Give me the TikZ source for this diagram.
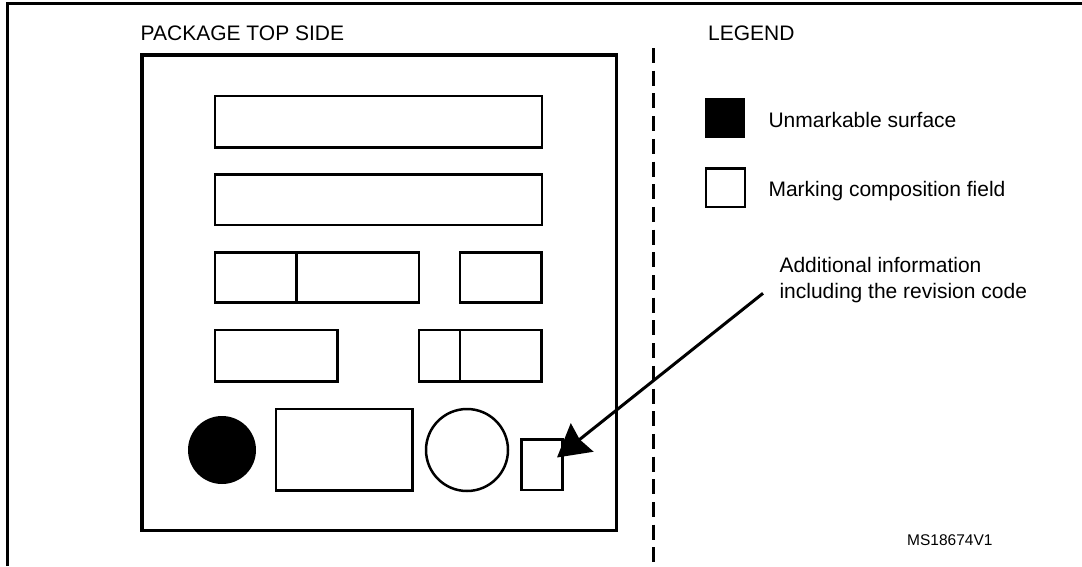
\documentclass[tikz,border=0pt]{standalone}
\usepackage{fontspec}
\setmainfont{Liberation Sans}
\usetikzlibrary{arrows.meta, positioning}

\tikzset{
  field/.style={draw, line width=2.5pt},
  pkgline/.style={draw, line width=3.2pt},
  lbl/.style={anchor=base west, inner sep=0pt, font=\fontsize{21}{25.6}\selectfont},
}

\begin{document}
\begin{tikzpicture}[x=1pt, y=-1pt]
    \useasboundingbox (0,0) rectangle (1082,566);

    % Outer frame (top and left only)
    \draw[line width=3pt] (7.8,566) -- (7.8,3.7) -- (1082,3.7);

    % --- Package top side ---
    \node[lbl] (pkgtitle) at (140.5,40.5) {PACKAGE TOP SIDE};
    \draw[pkgline] (142,55) rectangle (616.7,530.7);

    % Marking fields, rows 1 and 2
    \draw[field] (215,96) rectangle (542,147.3);
    \draw[field] (215,174.3) rectangle (542,225);

    % Row 3
    \draw[field] (215,252.7) rectangle (419,302.7);
    \draw[field] (296.7,252.7) -- (296.7,302.7);
    \draw[field] (460,252.7) rectangle (541.7,302.7);

    % Row 4
    \draw[field] (215,330) rectangle (337.7,381.7);
    \draw[field] (419,330) rectangle (541.7,381.7);
    \draw[field] (460,330) -- (460,381.7);

    % Row 5
    \fill (222,450) circle (34);
    \draw[field] (276,409) rectangle (412.7,490.7);
    \draw[field] (467,450) circle (41);
    \draw[field] (521.7,439.3) rectangle (562.7,490);
    \coordinate (revtip) at (557,457.5);

    % Separator
    \draw[line width=3pt, dash pattern=on 15pt off 7.7pt] (653.3,48) -- (653.3,566);

    % --- Legend ---
    \node[lbl] (legtitle) at (708,40.5) {LEGEND};
    \fill (705,98) rectangle (745,138);
    \node[lbl] (unmark) at (768.3,127.3) {Unmarkable surface};
    \draw[line width=2.5pt] (706,168.5) rectangle (745,207);
    \node[lbl] (markfield) at (768.3,196) {Marking composition field};

    % Revision code callout
    \node[lbl, align=left] (revinfo) at (779.3,298.3) {Additional information\\including the revision code};
    \coordinate (revstart) at (763,293.3);
    \draw[line width=3pt, -{Stealth[length=32pt, width=36pt, inset=3pt]}] (revstart) -- (revtip);

    \node[anchor=base west, inner sep=0pt, font=\fontsize{15.5}{18}\selectfont] (msref) at (907,545) {MS18674V1};

\end{tikzpicture}
\end{document}
